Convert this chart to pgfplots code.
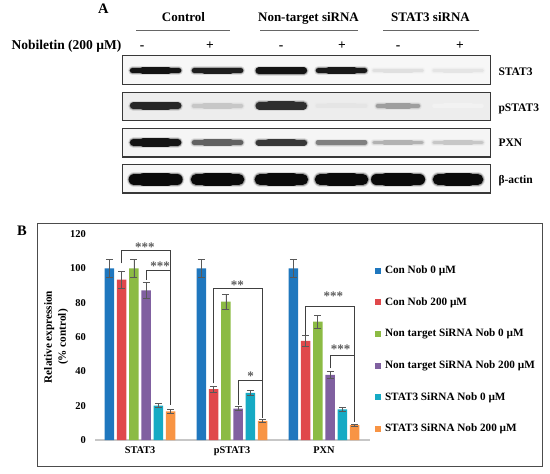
\documentclass[border=0pt]{standalone}
\usepackage{pgfplots}
\pgfplotsset{compat=1.18}
\usepackage{pgfplotstable}
\usepackage{fontspec}
\setmainfont{Liberation Serif}
\definecolor{cBlue}{HTML}{1F77BE}
\definecolor{cRed}{HTML}{E0484B}
\definecolor{cGreen}{HTML}{8CBB44}
\definecolor{cPurple}{HTML}{8060A0}
\definecolor{cCyan}{HTML}{16AAC4}
\definecolor{cOrange}{HTML}{F89444}
\definecolor{errc}{HTML}{595959}
\definecolor{brk}{HTML}{404040}

\pgfplotstableread{
x  a    ea   b    eb   c    ec   d    ed   e    ee   f    ef
0  100  5.2  93.4 4.8  100  5.1  87.2 4.7  20.0 1.2  16.7 1.2
1  100  5.0  29.7 1.8  80.6 4.3  18.3 1.0  27.4 1.5  11.1 0.8
2  100  5.0  57.7 3.2  68.9 3.6  37.9 2.1  17.9 1.2  8.7  0.6
}\datatable

\newcommand{\fs}[1]{\fontsize{#1}{#1}\selectfont\bfseries}
% band: x1 x2 y linewidth color  (soft halo, core, thicker middle)
\newcommand{\band}[5]{%
\addplot[no markers, line cap=round, line width={#4+3.5pt}, #5, opacity=0.12] coordinates {(#1,#3) (#2,#3)};
\addplot[no markers, line cap=round, line width={#4+1.5pt}, #5, opacity=0.3] coordinates {(#1,#3) (#2,#3)};
\addplot[no markers, line cap=round, line width=#4, #5] coordinates {(#1,#3) (#2,#3)};
\pgfmathsetmacro\bA{#1+0.22*(#2-#1)}\pgfmathsetmacro\bB{#2-0.22*(#2-#1)}%
\edef\bandtmp{\noexpand\addplot[no markers, line cap=round, line width={#4+1.2pt}, #5] coordinates {(\bA,#3) (\bB,#3)};}\bandtmp}

\pgfplotsset{blot/.style={scale only axis, width=368pt, height=28.5pt,
  xmin=122.7, xmax=490.7, ymin=0, ymax=28.5, ticks=none,
  axis line style={draw=black!78, line width=1.1pt},
  axis background/.style={fill=#1}, anchor=south west}}

\begin{document}
\begin{tikzpicture}
\useasboundingbox (0pt,0pt) rectangle (550pt,-474pt);

% ---------- Panel A ----------
\node[anchor=base, font=\fs{14.5}] at (103.3pt,-13.3pt) {A};
\node[anchor=base, font=\fs{13}] at (183.5pt,-21.5pt) {Control};
\node[anchor=base, font=\fs{13}] at (308.5pt,-21.5pt) {Non-target siRNA};
\node[anchor=base, font=\fs{13}] at (430.5pt,-21.5pt) {STAT3 siRNA};
\draw[black!60, line width=0.8pt] (136pt,-30pt) -- (230pt,-30pt);
\draw[black!60, line width=0.8pt] (260pt,-30pt) -- (358pt,-30pt);
\draw[black!60, line width=0.8pt] (383pt,-30pt) -- (479pt,-30pt);
\node[anchor=base west, font=\fs{13.5}] at (8pt,-49pt) {Nobiletin (200 µM)};
\foreach \xx/\ss in {142/-,210/+,281/-,342/+,398/-,460/+}
  \node[anchor=base, font=\fs{13.5}] at (\xx pt,-49pt) {\ss};

\begin{axis}[blot=black!3, at={(122.7pt,-84.3pt)}]
\band{132.6}{178.6}{13.7}{5.5pt}{black!92}
\band{194.3}{240.8}{13.7}{5pt}{black!88}
\band{258.8}{303.8}{13.7}{6.5pt}{black!92}
\band{318.5}{364.5}{13.7}{5.5pt}{black!90}
\band{373.8}{422.3}{13.7}{3pt}{black!12}
\band{433.8}{482.3}{13.7}{3pt}{black!10}
\end{axis}
\begin{axis}[blot=black!7, at={(122.7pt,-120.8pt)}]
\band{133.4}{177.9}{15}{7pt}{black!85}
\band{194.0}{241.0}{15}{4.5pt}{black!22}
\band{259.3}{303.3}{15}{7.5pt}{black!82}
\band{317.5}{365.5}{15}{3.5pt}{black!10}
\band{378.0}{418.0}{15}{4.5pt}{black!38}
\band{434.0}{482.0}{15}{3.5pt}{black!5}
\end{axis}
\begin{axis}[blot=black!4, at={(122.7pt,-157pt)}]
\band{133.6}{177.6}{14.5}{7.5pt}{black!92}
\band{194.3}{240.8}{14.5}{5pt}{black!62}
\band{258.6}{304.1}{14.5}{6pt}{black!78}
\band{318.0}{365.0}{14.5}{4.5pt}{black!50}
\band{374.0}{422.0}{14.5}{3.5pt}{black!30}
\band{434.0}{482.0}{14.5}{3.5pt}{black!22}
\end{axis}
\begin{axis}[blot=black!3, at={(122.7pt,-193pt)}]
\band{134.4}{176.9}{13.5}{11.5pt}{black!96}
\band{196.3}{238.8}{13.5}{11pt}{black!96}
\band{260.1}{302.6}{13.5}{11pt}{black!96}
\band{320.3}{362.8}{13.5}{11pt}{black!96}
\band{376.8}{419.3}{13.5}{11.5pt}{black!96}
\band{438.3}{477.8}{13.5}{11pt}{black!96}
\end{axis}

\node[anchor=base west, font=\fs{11.5}] at (495pt,-75pt) {STAT3};
\node[anchor=base west, font=\fs{11.5}] at (495pt,-111.3pt) {pSTAT3};
\node[anchor=base west, font=\fs{11.5}] at (495pt,-146.5pt) {PXN};
\node[anchor=base west, font=\fs{11.5}] at (495pt,-183pt) {β-actin};

% ---------- Panel B ----------
\draw[black!70, line width=1pt] (37.7pt,-223.3pt) rectangle (542.7pt,-466pt);
\node[anchor=base, font=\fs{14.5}] at (22pt,-235pt) {B};
\node[rotate=90, align=center, font=\fontsize{11.2}{14}\selectfont\bfseries] at (56.3pt,-337pt) {Relative expression\\(\% control)};

\begin{axis}[
  at={(95pt,-440pt)}, anchor=south west,
  scale only axis, width=275pt, height=206pt,
  xmin=-0.49, xmax=2.5, ymin=0, ymax=120,
  ybar=2.77pt, bar width=9.5pt,
  xtick={0,1,2}, xticklabels={STAT3,pSTAT3,PXN},
  ytick={0,20,...,120},
  axis x line*=bottom, axis y line*=left,
  x axis line style={draw=black!22, line width=1.2pt, -},
  y axis line style={draw=none},
  major tick length=0pt,
  /pgf/number format/assume math mode=true,
  xticklabel style={font=\fs{10.3}, inner sep=0pt, yshift=-6.5pt},
  yticklabel style={font=\fs{10.5}, anchor=east, inner sep=0pt, xshift=-9pt},
  clip=false,
  legend cell align=left,
  legend image code/.code={\fill[#1, draw=none] (0pt,-3pt) rectangle (6pt,3pt);},
  legend style={draw=none, fill=none, at={(1.0182,0.8466)}, anchor=north west,
    row sep=21.1pt, column sep=4pt, inner sep=0pt, outer sep=0pt,
    nodes={inner sep=0pt, text height=8pt, text depth=2.5pt, font=\fs{11.2}}},
  error bars/y dir=both, error bars/y explicit,
  error bars/error bar style={errc, line width=0.8pt},
  error bars/error mark options={rotate=90, errc, mark size=3.5pt, line width=0.8pt},
]
\addplot[fill=cBlue, draw=none] table[x=x, y=a, y error=ea] {\datatable};
\addplot[fill=cRed, draw=none] table[x=x, y=b, y error=eb] {\datatable};
\addplot[fill=cGreen, draw=none] table[x=x, y=c, y error=ec] {\datatable};
\addplot[fill=cPurple, draw=none] table[x=x, y=d, y error=ed] {\datatable};
\addplot[fill=cCyan, draw=none] table[x=x, y=e, y error=ee] {\datatable};
\addplot[fill=cOrange, draw=none] table[x=x, y=f, y error=ef] {\datatable};
\legend{Con Nob 0 µM, Con Nob 200 µM, Non target SiRNA Nob 0 µM, Non target SiRNA Nob 200 µM, STAT3 SiRNA Nob 0 µM, STAT3 SiRNA Nob 200 µM}

\draw[brk, line width=0.9pt] (axis cs:-0.2,102.9) |- (axis cs:0.3335,110.2) -- (axis cs:0.3335,20.4);
\draw[brk, line width=0.9pt] (axis cs:0.0667,93.2) |- (axis cs:0.3335,99);
\draw[brk, line width=0.9pt] (axis cs:0.8,33) |- (axis cs:1.3335,88.3) -- (axis cs:1.3335,12.6);
\draw[brk, line width=0.9pt] (axis cs:1.0667,20.4) |- (axis cs:1.3335,34.4);
\draw[brk, line width=0.9pt] (axis cs:1.8,61) |- (axis cs:2.3335,78) -- (axis cs:2.3335,10.7);
\draw[brk, line width=0.9pt] (axis cs:2.0667,41.7) |- (axis cs:2.3335,49.5);
\node[font=\fs{13}, text=errc, yshift=-2pt] at (axis cs:0.051,113.6) {***};
\node[font=\fs{13}, text=errc, yshift=-2pt] at (axis cs:0.217,102.5) {***};
\node[font=\fs{13}, text=errc, yshift=-2pt] at (axis cs:1.058,91.6) {**};
\node[font=\fs{13}, text=errc, yshift=-2pt] at (axis cs:1.203,38.4) {*};
\node[font=\fs{13}, text=errc, yshift=-2pt] at (axis cs:2.101,85) {***};
\node[font=\fs{13}, text=errc, yshift=-2pt] at (axis cs:2.18,53.8) {***};
\end{axis}
\end{tikzpicture}
\end{document}
